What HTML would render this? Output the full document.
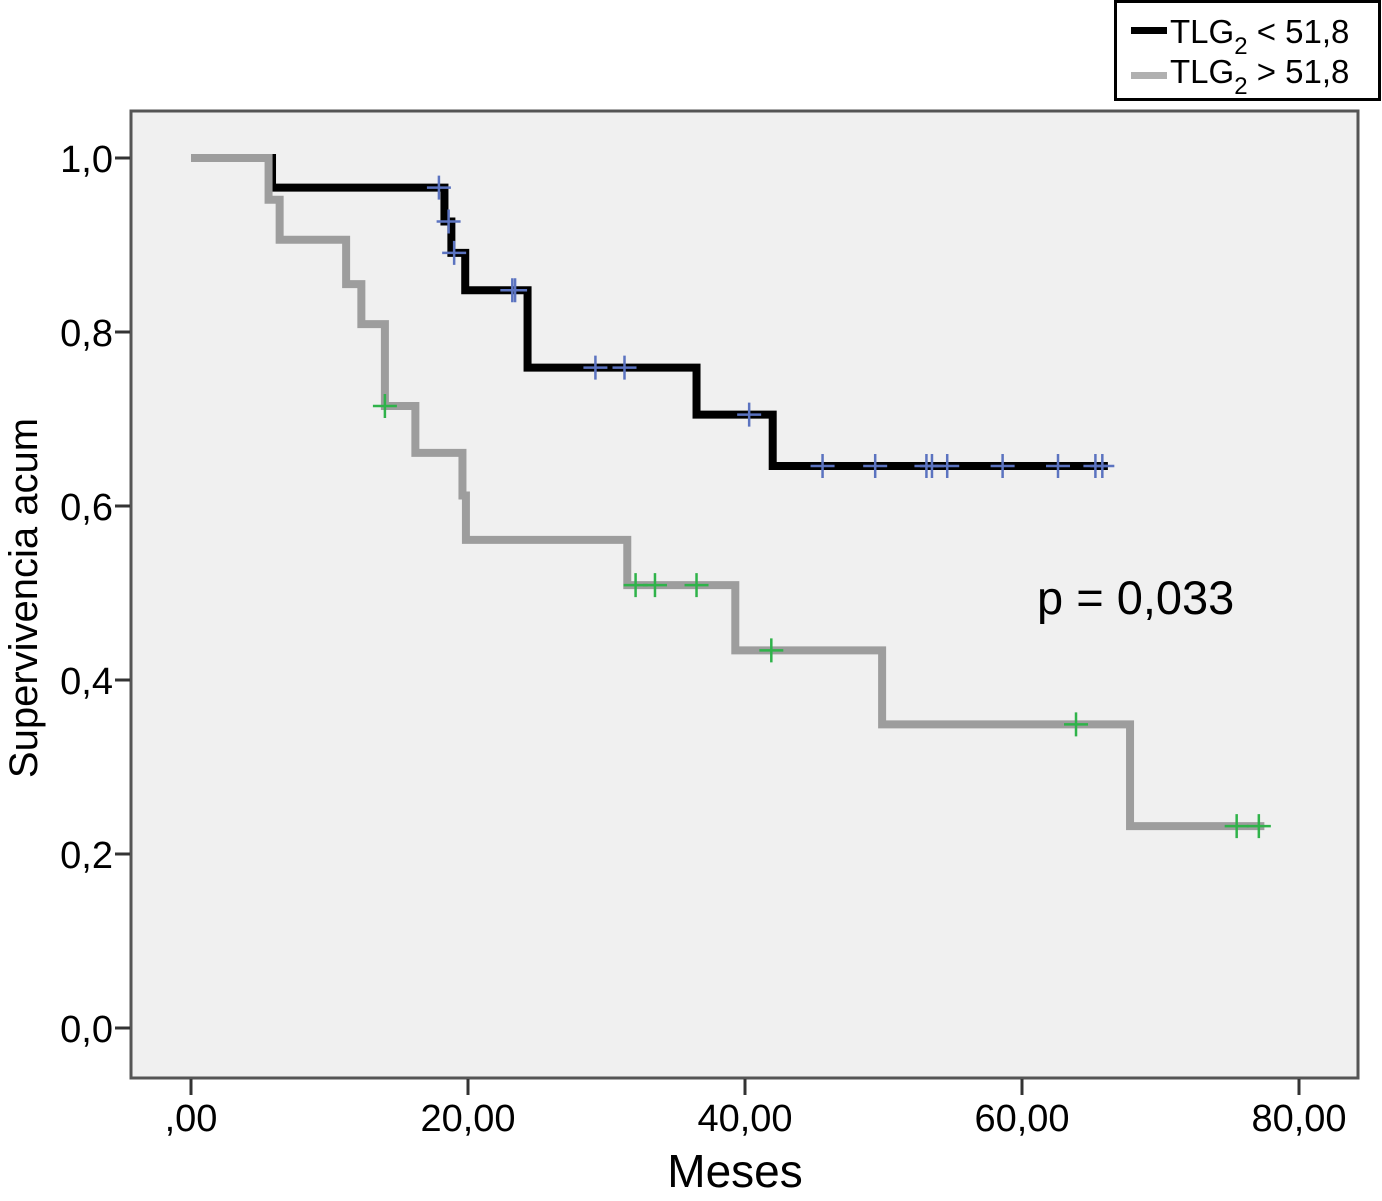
<!DOCTYPE html>
<html><head><meta charset="utf-8"><style>
body{margin:0;background:#fff;}
svg{display:block;font-family:"Liberation Sans",Arial,sans-serif;}
</style></head><body>
<svg id="chart" width="1382" height="1201" viewBox="0 0 1382 1201" xmlns="http://www.w3.org/2000/svg">
<rect x="131" y="111" width="1227" height="967" fill="#f0f0f0" stroke="#555" stroke-width="3"/>
<g id="axes"></g>
<g id="series"></g>
<text x="1037" y="614" font-size="47">p = 0,033</text>
<text x="735" y="1187" font-size="46" text-anchor="middle">Meses</text>
<text transform="translate(37,598) rotate(-90)" font-size="40" text-anchor="middle">Supervivencia acum</text>
<g>
<rect x="1115.5" y="1.5" width="264" height="98" fill="#fff" stroke="#000" stroke-width="3"/>
<rect x="1131" y="27" width="36" height="7" fill="#000"/>
<text x="1170" y="43" font-size="33">TLG<tspan font-size="24" dy="11">2</tspan><tspan dy="-11"> &lt; 51,8</tspan></text>
<rect x="1131" y="72" width="36" height="7" fill="#b0b0b0"/>
<text x="1170" y="83" font-size="33">TLG<tspan font-size="24" dy="11">2</tspan><tspan dy="-11"> &gt; 51,8</tspan></text>
</g>
</svg>
<script>
const xTicks=[0,20,40,60,80];
const xTickLabels=[",00","20,00","40,00","60,00","80,00"];
const yTicks=[0,0.2,0.4,0.6,0.8,1.0];
const yTickLabels=["0,0","0,2","0,4","0,6","0,8","1,0"];
// black group: TLG2 < 51.8
const lowTimes=[5.85,18.3,18.8,19.8,24.3,36.5,42.0];
const lowSurv=[0.966,0.927,0.891,0.848,0.759,0.705,0.646];
const lowEnd=66.2;
const lowCensorTimes=[17.9,18.6,19.0,23.2,23.4,29.2,31.3,40.3,45.6,49.4,53.1,53.5,54.6,58.6,62.6,65.3,65.8];
// gray group: TLG2 > 51.8
const highTimes=[5.6,6.4,11.2,12.3,14.0,16.2,19.6,19.85,31.5,39.3,49.9,67.8];
const highSurv=[0.952,0.906,0.855,0.809,0.715,0.661,0.612,0.561,0.509,0.434,0.349,0.232];
const highEnd=77.5;
const highCensorTimes=[14.0,32.1,33.5,36.5,41.9,63.9,75.5,77.1];

const X=t=>191+t*13.85;
const Y=s=>1028-s*870;
const NS="http://www.w3.org/2000/svg";
const axes=document.getElementById('axes'),ser=document.getElementById('series');
function mk(tag,attrs,parent){const e=document.createElementNS(NS,tag);for(const k in attrs)e.setAttribute(k,attrs[k]);parent.appendChild(e);return e;}
xTicks.forEach((v,i)=>{
 const l=mk('line',{x1:X(v),x2:X(v),y1:1079,y2:1095,stroke:'#333','stroke-width':3},axes);
 
 
 const t=mk('text',{x:X(v),y:1131,'font-size':38,'text-anchor':'middle'},axes);t.textContent=xTickLabels[i];
 
 
});
yTicks.forEach((v,i)=>{
 const l=mk('line',{x1:115,x2:130,y1:Y(v),y2:Y(v),stroke:'#333','stroke-width':3},axes);
 
 
 const t=mk('text',{x:113,y:Y(v)+14,'font-size':38,'text-anchor':'end'},axes);t.textContent=yTickLabels[i];
 
 
});
function survAt(times,surv,t){let s=1;for(let i=0;i<times.length;i++){if(times[i]<=t)s=surv[i];}return s;}
function drawCurve(times,surv,end,color,name){
 let d=`M${X(0)},${Y(1)}`;
 times.forEach((t,i)=>{d+=` H${X(t)} V${Y(surv[i])}`;});
 d+=` H${X(end)}`;
 const p=mk('path',{d:d,fill:'none',stroke:color,'stroke-width':8,'stroke-linejoin':'miter'},ser);
 
 
}
function drawCensors(ct,times,surv,color,name){
 ct.forEach(t=>{
  const cx=X(t),cy=Y(survAt(times,surv,t));
  const g=mk('path',{d:`M${cx-12},${cy} H${cx+12} M${cx},${cy-12} V${cy+12}`,stroke:color,'stroke-width':2.5,fill:'none'},ser);
  
  
 });
}
drawCurve(lowTimes,lowSurv,lowEnd,'#000','curve-low-tlg');
drawCurve(highTimes,highSurv,highEnd,'#9d9d9d','curve-high-tlg');
drawCensors(lowCensorTimes,lowTimes,lowSurv,'#5b73c0','censor-mark-low');
drawCensors(highCensorTimes,highTimes,highSurv,'#2fb34a','censor-mark-high');
</script>
</body></html>
